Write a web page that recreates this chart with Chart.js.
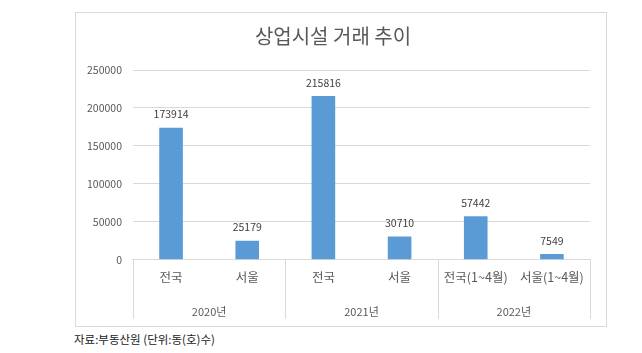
<!DOCTYPE html>
<html>
<head>
<meta charset="utf-8">
<script src="https://cdn.jsdelivr.net/npm/chart.js@4/dist/chart.umd.min.js"></script>
<style>
  body { margin: 0; background: #fff; width: 642px; height: 353px; position: relative; overflow: hidden; }
  #box { position: absolute; left: 75px; top: 12px; width: 530px; height: 313px; border: 1px solid #d9d9d9; }
  #wrap { position: absolute; left: 60px; top: 12px; width: 546px; height: 316px; }
  #note { position: absolute; left: 74px; top: 331px; font: 11.5px "Noto Sans CJK KR", sans-serif; color: #222; }
</style>
</head>
<body>
<div id="box"></div>
<div id="wrap"><canvas id="chart"></canvas></div>
<div id="note">자료:부동산원 (단위:동(호)수)</div>
<script>
let categories = ["전국", "서울", "전국", "서울", "전국(1~4월)", "서울(1~4월)"];
let years = ["2020년", "2021년", "2022년"];
let values = [173914, 25179, 215816, 30710, 57442, 7549];
let yTicks = [0, 50000, 100000, 150000, 200000, 250000];

const fontKr = "'Noto Sans CJK KR', 'Noto Sans', sans-serif";

// value text above each bar
const barLabels = {
  id: "barLabels",
  afterDatasetsDraw(chart) {
    const ctx = chart.ctx;
    const meta = chart.getDatasetMeta(0);
    ctx.save();
    ctx.font = "10.5px " + fontKr;
    ctx.fillStyle = "#404040";
    ctx.textAlign = "center";
    ctx.textBaseline = "bottom";
    meta.data.forEach((bar, i) => {
      ctx.fillText(values[i], bar.x, bar.y - 8);
    });
    ctx.restore();
  }
};

// vertical separators between year groups
const groupLines = {
  id: "groupLines",
  afterDraw(chart) {
    const x2 = chart.scales.x2;
    const ctx = chart.ctx;
    const half = (x2.getPixelForTick(1) - x2.getPixelForTick(0)) / 2;
    ctx.save();
    ctx.strokeStyle = "#d9d9d9";
    ctx.lineWidth = 1;
    for (let i = 0; i <= years.length; i++) {
      let px = Math.round(x2.getPixelForTick(0) - half + i * half * 2) + 0.5;
      ctx.beginPath();
      ctx.moveTo(px, chart.chartArea.bottom);
      ctx.lineTo(px, chart.chartArea.bottom + 59);
      ctx.stroke();
    }
    ctx.restore();
  }
};

new Chart(document.getElementById("chart"), {
  type: "bar",
  data: {
    labels: categories,
    datasets: [{
      data: values,
      backgroundColor: "#5b9bd5",
      barPercentage: 0.31,
      categoryPercentage: 1
    }]
  },
  options: {
    responsive: true,
    maintainAspectRatio: false,
    animation: false,
    layout: { padding: { left: 16, right: 16, top: 0, bottom: 0 } },
    plugins: {
      legend: { display: false },
      tooltip: { enabled: false },
      title: {
        display: true,
        text: "상업시설 거래 추이",
        color: "#595959",
        font: { family: fontKr, size: 20, weight: "normal" },
        padding: { top: 12, bottom: 22 }
      }
    },
    scales: {
      y: {
        min: 0,
        max: 250000,
        afterBuildTicks: (axis) => { axis.ticks = yTicks.map(v => ({ value: v })); },
        grid: { color: "#d9d9d9", drawTicks: false },
        border: { display: false },
        ticks: {
          color: "#595959",
          font: { family: fontKr, size: 10.5 },
          padding: 11,
          callback: (v) => String(v)
        }
      },
      x: {
        grid: { display: false, drawTicks: false },
        border: { display: true, color: "#d9d9d9" },
        ticks: { color: "#595959", font: { family: fontKr, size: 12.5 }, padding: 10, maxRotation: 0, autoSkip: false }
      },
      x2: {
        type: "category",
        labels: years,
        position: "bottom",
        offset: true,
        grid: { display: false, drawTicks: false },
        border: { display: false },
        ticks: { color: "#595959", font: { family: fontKr, size: 11 }, padding: 10, maxRotation: 0 }
      }
    }
  },
  plugins: [barLabels, groupLines]
});
</script>
</body>
</html>
